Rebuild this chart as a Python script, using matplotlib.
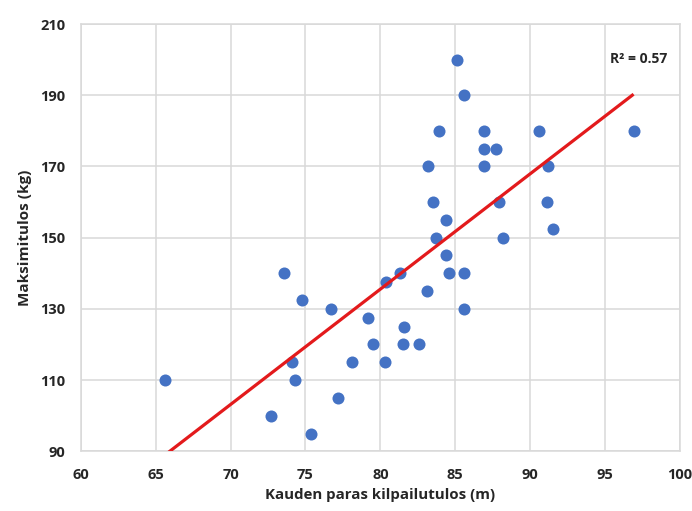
import numpy as np
import matplotlib
matplotlib.use("Agg")
import matplotlib.pyplot as plt

plt.rcParams['font.family'] = ['Open Sans', 'DejaVu Sans']

kauden_paras = [85.1, 85.6, 83.9, 86.9, 90.6, 96.9, 86.9, 87.7, 83.2, 86.9,
                91.2, 83.5, 87.9, 91.1, 84.4, 91.5, 83.7, 88.2, 84.4,
                84.6, 85.6, 81.3, 80.4, 83.1, 85.6, 79.2, 81.6, 79.5, 81.5,
                82.6, 80.3,
                73.6, 74.8, 76.7, 78.1, 74.1, 74.3, 65.6, 77.2, 72.7, 75.4]
maksimitulos = [200, 190, 180, 180, 180, 180, 175, 175, 170, 170,
                170, 160, 160, 160, 155, 152.5, 150, 150, 145,
                140, 140, 140, 137.5, 135, 130, 127.5, 125, 120, 120,
                120, 115,
                140, 132.5, 130, 115, 115, 110, 110, 105, 100, 95]
x_ticks = [60, 65, 70, 75, 80, 85, 90, 95, 100]
y_ticks = [90, 110, 130, 150, 170, 190, 210]
r2_label = "R² = 0.57"

x = np.array(kauden_paras)
y = np.array(maksimitulos)

fig = plt.figure(figsize=(6.92, 5.11), dpi=100)
ax = fig.add_axes([0.1166, 0.1168, 0.8661, 0.8362])

ax.scatter(x, y, s=75, color='#4472C4', zorder=3, linewidths=0)

slope, intercept = np.polyfit(x, y, 1)
xl = np.linspace(x.min(), x.max(), 200)
ax.plot(xl, slope * xl + intercept, color='#E31A1C', lw=2.3, zorder=4,
        solid_capstyle='butt')

ax.set_xlim(60, 100)
ax.set_ylim(90, 210)
ax.set_xticks(x_ticks)
ax.set_yticks(y_ticks)
ax.grid(True, color='#D9D9D9', lw=1.1, zorder=0)
ax.set_axisbelow(True)
for s in ax.spines.values():
    s.set_color('#D9D9D9')
    s.set_linewidth(1.1)
ax.tick_params(length=0, labelsize=10.5, colors='#262626')
ax.tick_params(axis='x', pad=12)
ax.tick_params(axis='y', pad=11)
for lab in ax.get_xticklabels() + ax.get_yticklabels():
    lab.set_fontweight('bold')

ax.set_xlabel('Kauden paras kilpailutulos (m)', fontsize=10.8, fontweight='bold',
              color='#262626', labelpad=4)
ax.set_ylabel('Maksimitulos (kg)', fontsize=11, fontweight='bold',
              color='#262626', labelpad=6)

ax.text(0.9305, 0.917, r2_label, transform=ax.transAxes, ha='center', va='center',
        fontsize=10, fontweight='bold', color='#262626')

fig.savefig('out.png', dpi=100)
